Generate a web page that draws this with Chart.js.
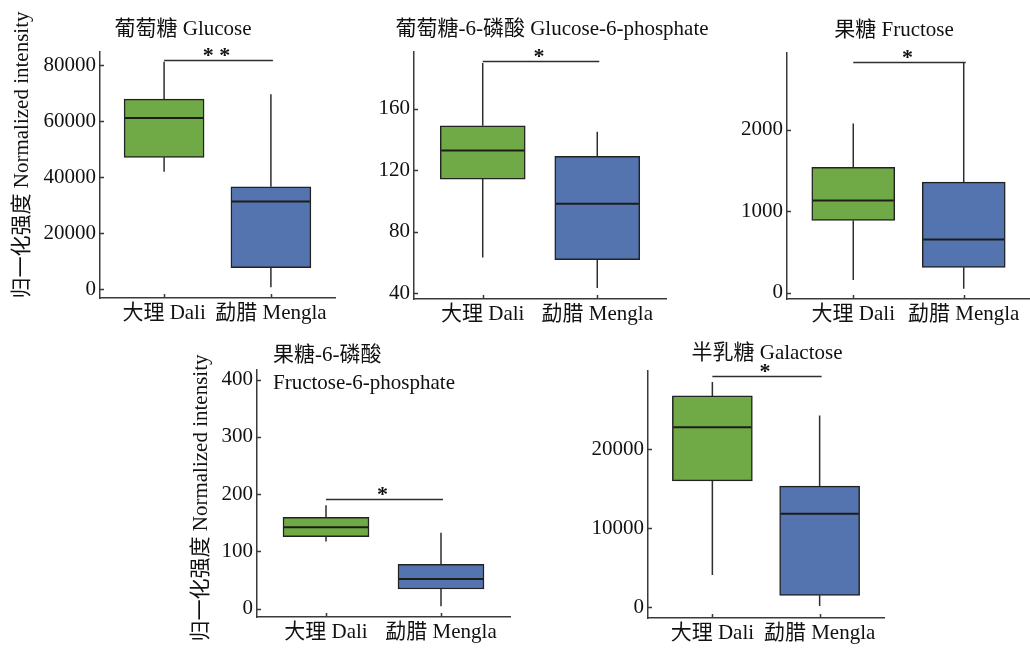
<!DOCTYPE html>
<html>
<head>
<meta charset="utf-8">
<script src="https://cdn.jsdelivr.net/npm/chart.js@4.4.1/dist/chart.umd.min.js"></script>
<style>
  html, body { margin: 0; padding: 0; background: #fff; }
  #fig { position: relative; width: 1030px; height: 650px; overflow: hidden; background: #fff; }
  #fig canvas { position: absolute; }
</style>
</head>
<body>
<div id="fig">
  <canvas id="glucose"></canvas>
  <canvas id="g6p"></canvas>
  <canvas id="fructose"></canvas>
  <canvas id="f6p"></canvas>
  <canvas id="galactose"></canvas>
</div>
<script>
// Sampling sites on the x axis
const groups = ['大理 Dali', '勐腊 Mengla'];

// Five-number summaries for each site: [min, Q1, median, Q3, max]
const glucoseDali      = [42000, 47100, 61100, 67900, 81200];
const glucoseMengla    = [700, 7700, 31300, 36600, 69600];
const g6pDali          = [63.2, 114.2, 132.9, 148.9, 189.8];
const g6pMengla        = [43.3, 61.7, 98.1, 129.0, 145.0];
const fructoseDali     = [156, 888, 1134, 1539, 2078];
const fructoseMengla   = [49, 312, 655, 1358, 2822];
const f6pDali          = [117, 125.8, 142, 159.5, 180.4];
const f6pMengla        = [4, 34.2, 51.7, 77.4, 132.7];
const galactoseDali    = [4080, 15990, 22775, 26730, 28500];
const galactoseMengla  = [168, 1516, 11820, 15320, 24250];

// Y axis tick values
const glucoseTicks   = [0, 20000, 40000, 60000, 80000];
const g6pTicks       = [40, 80, 120, 160];
const fructoseTicks  = [0, 1000, 2000];
const f6pTicks       = [0, 100, 200, 300, 400];
const galactoseTicks = [0, 10000, 20000];

// Significance marks between the two sites
const glucoseSig   = '* *';
const g6pSig       = '*';
const fructoseSig  = '*';
const f6pSig       = '*';
const galactoseSig = '*';

const SERIF = '"Liberation Serif", "Noto Sans CJK SC", serif';
const INK = '#111';
const AXIS = '#3a3a3a';
const GREEN = '#70aa46';
const BLUE = '#5474af';
const Y_TITLE = '归一化强度 Normalized intensity';

// Panel layout: canvas box, plot box (page px), y range, title placement
const panels = [
  { id: 'glucose', canvas: [0, 0, 345, 330], plot: [100, 52, 335, 298],
    yRange: [-3100, 84700], ticks: glucoseTicks, stats: [glucoseDali, glucoseMengla],
    sig: glucoseSig, sigY: 81800, barW: 80,
    titles: [{ text: '葡萄糖 Glucose', x: 183, y: 29, align: 'center' }],
    yTitle: { x: 22, y: 155 } },
  { id: 'g6p', canvas: [345, 0, 375, 330], plot: [414, 52, 666, 299],
    yRange: [36.1, 197], ticks: g6pTicks, stats: [g6pDali, g6pMengla],
    sig: g6pSig, sigY: 191.2, barW: 85,
    titles: [{ text: '葡萄糖-6-磷酸 Glucose-6-phosphate', x: 552, y: 29, align: 'center' }] },
  { id: 'fructose', canvas: [720, 0, 310, 330], plot: [787, 53, 1030, 299],
    yRange: [-77, 2945], ticks: fructoseTicks, stats: [fructoseDali, fructoseMengla],
    sig: fructoseSig, sigY: 2830, barW: 83,
    titles: [{ text: '果糖 Fructose', x: 894, y: 30, align: 'center' }] },
  { id: 'f6p', canvas: [180, 330, 345, 320], plot: [257, 370, 510, 617],
    yRange: [-14.7, 416.8], ticks: f6pTicks, stats: [f6pDali, f6pMengla],
    sig: f6pSig, sigY: 192, barW: 86,
    titles: [{ text: '果糖-6-磷酸', x: 273, y: 355, align: 'left' },
             { text: 'Fructose-6-phosphate', x: 273, y: 383, align: 'left' }],
    yTitle: { x: 201, y: 498 } },
  { id: 'galactose', canvas: [580, 330, 330, 320], plot: [648, 371, 884, 618],
    yRange: [-1351, 29880], ticks: galactoseTicks, stats: [galactoseDali, galactoseMengla],
    sig: galactoseSig, sigY: 29200, barW: 80,
    titles: [{ text: '半乳糖 Galactose', x: 767, y: 353, align: 'center' }] }
];

// Whiskers, medians, inward ticks, significance bracket and titles
const boxPlot = {
  id: 'boxPlot',
  beforeDatasetsDraw(chart, args, o) {
    const { ctx } = chart, xs = chart.scales.x, ys = chart.scales.y;
    ctx.save();
    ctx.strokeStyle = '#2e2e2e';
    ctx.lineWidth = 1.5;
    o.stats.forEach((s, i) => {
      const px = xs.getPixelForValue(i);
      ctx.beginPath();
      ctx.moveTo(px, ys.getPixelForValue(s[4]));
      ctx.lineTo(px, ys.getPixelForValue(s[3]));
      ctx.moveTo(px, ys.getPixelForValue(s[1]));
      ctx.lineTo(px, ys.getPixelForValue(s[0]));
      ctx.stroke();
    });
    ctx.restore();
  },
  afterDatasetsDraw(chart, args, o) {
    const { ctx, chartArea } = chart, xs = chart.scales.x, ys = chart.scales.y;
    const meta = chart.getDatasetMeta(0);
    ctx.save();
    // medians
    ctx.strokeStyle = '#1c1c1c';
    ctx.lineWidth = 2;
    meta.data.forEach((bar, i) => {
      const py = ys.getPixelForValue(o.stats[i][2]);
      const half = bar.width / 2;
      ctx.beginPath();
      ctx.moveTo(bar.x - half + 1, py);
      ctx.lineTo(bar.x + half - 1, py);
      ctx.stroke();
    });
    // inward tick marks
    ctx.strokeStyle = AXIS;
    ctx.lineWidth = 1.5;
    ctx.beginPath();
    ys.ticks.forEach(t => {
      const py = Math.round(ys.getPixelForValue(t.value)) + 0.5;
      ctx.moveTo(chartArea.left, py);
      ctx.lineTo(chartArea.left + 4, py);
    });
    xs.ticks.forEach(t => {
      const px = Math.round(xs.getPixelForValue(t.value)) + 0.5;
      ctx.moveTo(px, chartArea.bottom);
      ctx.lineTo(px, chartArea.bottom - 4);
    });
    ctx.stroke();
    // significance bracket
    const x0 = xs.getPixelForValue(0), x1 = xs.getPixelForValue(1);
    const sy = Math.round(ys.getPixelForValue(o.sigY)) + 0.5;
    ctx.strokeStyle = '#2e2e2e';
    ctx.beginPath();
    ctx.moveTo(x0, sy);
    ctx.lineTo(x1 + 2, sy);
    ctx.stroke();
    ctx.fillStyle = INK;
    ctx.font = 'bold 22px ' + SERIF;
    ctx.textAlign = 'center';
    ctx.textBaseline = 'alphabetic';
    ctx.fillText(o.sig, (x0 + x1) / 2 - 1, sy + 1);
    // titles
    const [cx, cy] = o.origin;
    ctx.font = '21px ' + SERIF;
    ctx.textBaseline = 'middle';
    o.titles.forEach(t => {
      ctx.textAlign = t.align;
      ctx.fillText(t.text, t.x - cx, t.y - cy);
    });
    if (o.yTitle) {
      ctx.save();
      ctx.translate(o.yTitle.x - cx, o.yTitle.y - cy);
      ctx.rotate(-Math.PI / 2);
      ctx.textAlign = 'center';
      ctx.textBaseline = 'middle';
      ctx.font = '21px ' + SERIF;
      ctx.fillText(Y_TITLE, 0, 0);
      ctx.restore();
    }
    ctx.restore();
  }
};

panels.forEach(p => {
  const [cx, cy, cw, ch] = p.canvas;
  const [L, T, R, B] = p.plot;
  const el = document.getElementById(p.id);
  el.width = cw; el.height = ch;
  el.style.left = cx + 'px'; el.style.top = cy + 'px';
  el.style.width = cw + 'px'; el.style.height = ch + 'px';

  const yAxisWidth = L - cx;
  const xAxisHeight = cy + ch - B;

  new Chart(el, {
    type: 'bar',
    data: {
      datasets: [{
        data: p.stats.map((s, i) => ({ x: i, y: [s[1], s[3]] })),
        backgroundColor: [GREEN, BLUE],
        borderColor: '#222',
        borderWidth: 1.5,
        borderSkipped: false,
        barThickness: p.barW
      }]
    },
    options: {
      responsive: false,
      animation: false,
      devicePixelRatio: 1,
      layout: { padding: { left: 0, top: T - cy, right: cx + cw - R, bottom: 0 } },
      plugins: {
        legend: { display: false },
        tooltip: { enabled: false },
        boxPlot: { stats: p.stats, sig: p.sig, sigY: p.sigY, titles: p.titles,
                   yTitle: p.yTitle, origin: [cx, cy] }
      },
      scales: {
        x: {
          type: 'linear', min: -0.6, max: 1.6, offset: false,
          afterBuildTicks: s => { s.ticks = groups.map((g, i) => ({ value: i })); },
          afterFit: s => { s.height = xAxisHeight; },
          ticks: { callback: v => groups[v], autoSkip: false, maxRotation: 0,
                   color: INK, padding: 3, font: { family: SERIF, size: 21 } },
          grid: { display: false, drawTicks: false },
          border: { display: true, color: AXIS, width: 1.5 }
        },
        y: {
          type: 'linear', min: p.yRange[0], max: p.yRange[1],
          afterBuildTicks: s => { s.ticks = p.ticks.map(v => ({ value: v })); },
          afterFit: s => { s.width = yAxisWidth; },
          ticks: { callback: v => String(v), color: INK, padding: 4,
                   font: { family: SERIF, size: 21 } },
          grid: { display: false, drawTicks: false },
          border: { display: true, color: AXIS, width: 1.5 }
        }
      }
    },
    plugins: [boxPlot]
  });
});
</script>
</body>
</html>
